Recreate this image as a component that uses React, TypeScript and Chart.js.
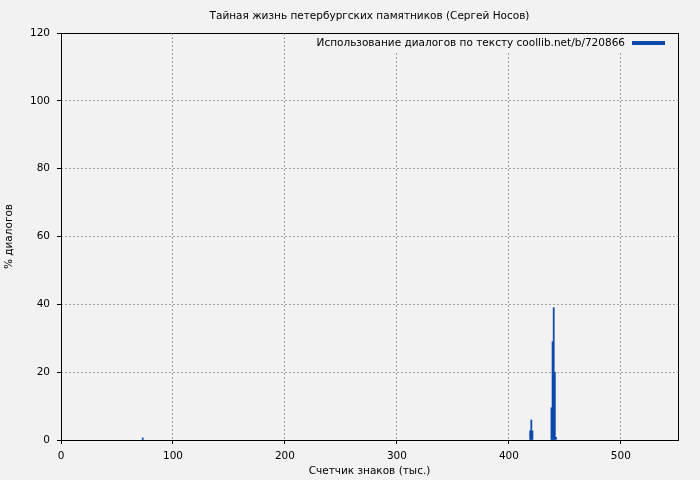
import React, { useEffect, useRef } from "react";
import { Chart, registerables } from "chart.js";

Chart.register(...registerables);

const TITLE = "Тайная жизнь петербургских памятников (Сергей Носов)";
const SERIES_LABEL = "Использование диалогов по тексту coollib.net/b/720866";
const X_TITLE = "Счетчик знаков (тыс.)";
const Y_TITLE = "% диалогов";

// position in thousands of characters
const positions: number[] = [73, 419, 420, 421, 438, 439, 440, 441, 442];
// percentage of dialogue
const values: number[] = [0.6, 2.7, 5.9, 2.7, 9.5, 29, 39, 20, 0.8];

const X_MAX = 551;
const Y_MAX = 120;

const BG = "#f2f2f2";
const BAR = "#0b4aa8";
const GRID = "#a0a0a0";
const FONT = "'DejaVu Sans', sans-serif";
const FS = 10.5;

export default function App() {
  const ref = useRef<HTMLCanvasElement | null>(null);

  useEffect(() => {
    document.body.style.margin = "0";
    const canvas = ref.current!;
    const deco = {
      id: "deco",
      beforeDraw(chart: any) {
        const { ctx, width, height } = chart;
        ctx.save();
        ctx.fillStyle = BG;
        ctx.fillRect(0, 0, width, height);
        ctx.restore();
      },
      afterDraw(chart: any) {
        const { ctx, chartArea: a } = chart;
        ctx.save();
        // legend
        ctx.font = `${FS}px ${FONT}`;
        const textRight = a.right - 53;
        const ly = a.top + 10;
        const tw = ctx.measureText(SERIES_LABEL).width;
        const boxLeft = textRight - tw - 26;
        ctx.fillStyle = BG;
        ctx.fillRect(boxLeft, a.top + 1, a.right - boxLeft - 1, 19);
        ctx.fillStyle = "#000";
        ctx.textAlign = "right";
        ctx.textBaseline = "middle";
        ctx.fillText(SERIES_LABEL, textRight, ly);
        ctx.strokeStyle = BAR;
        ctx.lineWidth = 4;
        ctx.beginPath();
        ctx.moveTo(textRight + 7, ly);
        ctx.lineTo(textRight + 40, ly);
        ctx.stroke();
        // title
        ctx.textAlign = "center";
        ctx.fillText(TITLE, (a.left + a.right) / 2, 16.5);
        // border
        ctx.strokeStyle = "#000";
        ctx.lineWidth = 1;
        ctx.strokeRect(Math.round(a.left) + 0.5, Math.round(a.top) + 0.5, Math.round(a.right - a.left), Math.round(a.bottom - a.top));
        ctx.restore();
      },
    };

    const chart = new Chart(canvas, {
      type: "bar",
      data: {
        datasets: [
          {
            label: SERIES_LABEL,
            data: positions.map((x, i) => ({ x, y: values[i] })),
            backgroundColor: BAR,
            borderWidth: 0,
            barPercentage: 1,
            categoryPercentage: 1,
          },
        ],
      },
      options: {
        animation: false,
        responsive: false,
        layout: { padding: { top: 33, right: 22, left: 0, bottom: 0 } },
        plugins: {
          legend: { display: false },
          title: { display: false },
          tooltip: { enabled: false },
        },
        scales: {
          x: {
            type: "linear",
            min: 0,
            max: X_MAX,
            offset: false,
            afterFit: (s: any) => {
              s.height = 40;
            },
            ticks: {
              stepSize: 100,
              includeBounds: false,
              color: "#000",
              font: { family: FONT, size: FS },
              padding: 6,
              maxRotation: 0,
            },
            grid: {
              offset: false,
              color: GRID,
              tickColor: "#000",
              tickBorderDash: [0, 0],
              tickLength: 4,
            } as any,
            border: { display: false, dash: [2, 2] },
            title: {
              display: true,
              text: X_TITLE,
              color: "#000",
              font: { family: FONT, size: FS },
              padding: { top: 0, bottom: 2 },
            },
          },
          y: {
            min: 0,
            max: Y_MAX,
            afterFit: (s: any) => {
              s.width = 61;
            },
            ticks: {
              stepSize: 20,
              color: "#000",
              font: { family: FONT, size: FS },
              padding: 7,
            },
            grid: {
              color: GRID,
              tickColor: "#000",
              tickBorderDash: [0, 0],
              tickLength: 4,
            } as any,
            border: { display: false, dash: [2, 2] },
            title: {
              display: true,
              text: Y_TITLE,
              color: "#000",
              font: { family: FONT, size: FS },
              padding: { top: 3, bottom: 0 },
            },
          },
        },
      },
      plugins: [deco],
    });
    return () => chart.destroy();
  }, []);

  return <canvas ref={ref} width={700} height={480} style={{ display: "block" }} />;
}
